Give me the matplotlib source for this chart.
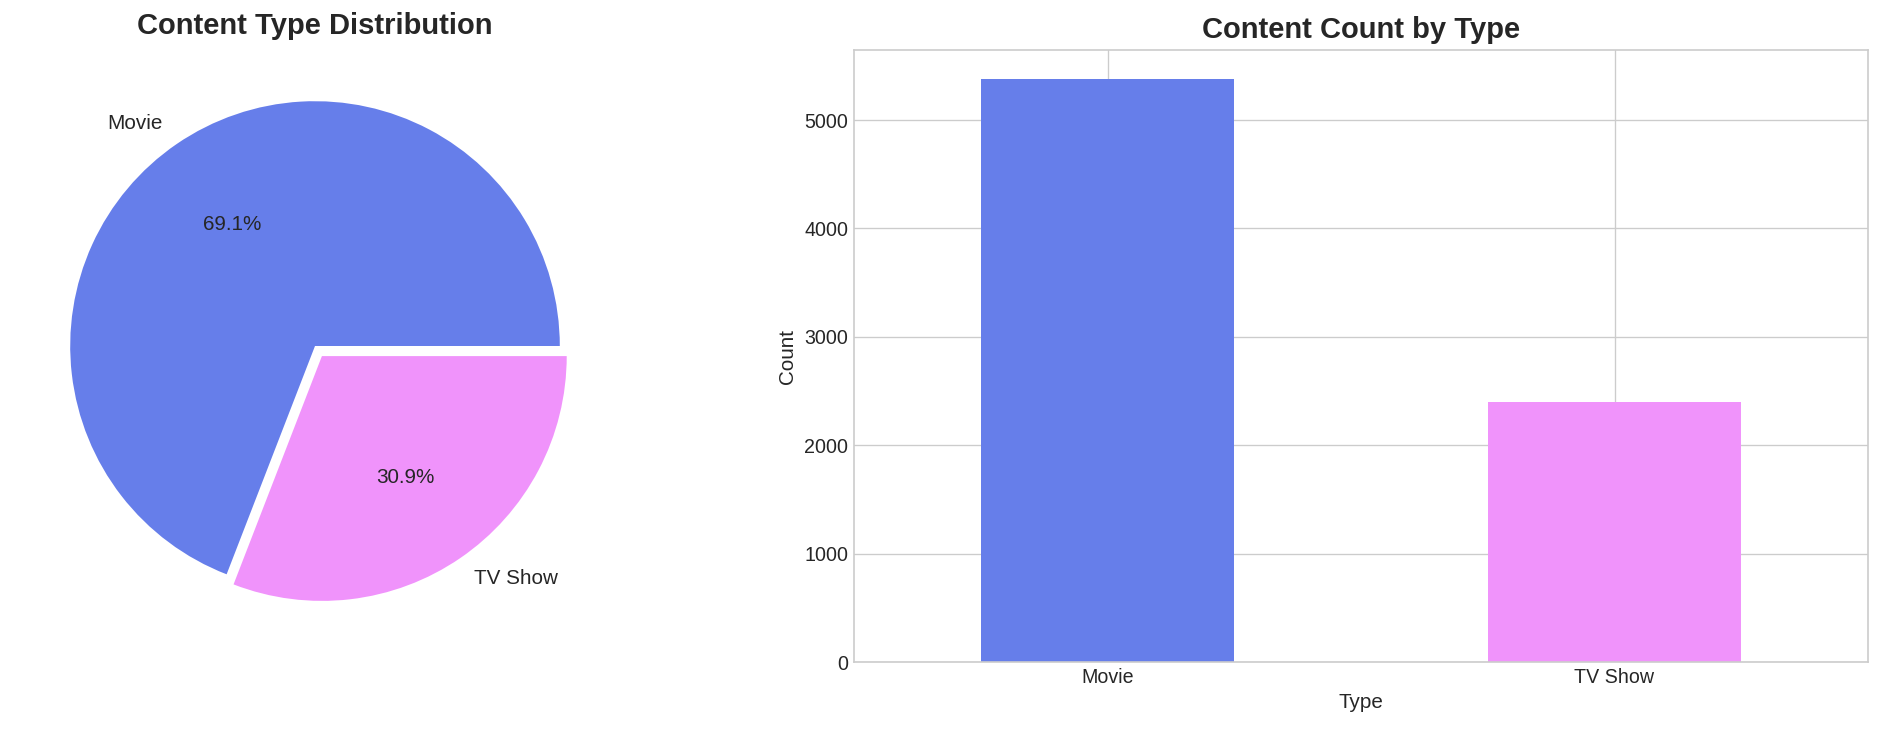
import matplotlib.pyplot as plt

plt.style.use('seaborn-v0_8-whitegrid')
plt.rcParams['font.family'] = ['Liberation Sans', 'DejaVu Sans']
plt.rcParams['xtick.labelsize'] = 11.8
plt.rcParams['ytick.labelsize'] = 11.8
plt.rcParams['axes.labelsize'] = 12.4

# data
types = ['Movie', 'TV Show']
counts = [5377, 2402]
colors = ['#667eea', '#f093fb']

W, H, DPI = 1884, 732, 120
fig = plt.figure(figsize=(W / DPI, H / DPI), dpi=DPI)

# pie (left)
side = 612
ax1 = fig.add_axes([(315 - side / 2) / W, (H - 652) / H, side / W, side / H])
ax1.pie(counts, labels=types, colors=colors, autopct='%1.1f%%',
        explode=(0, 0.05), textprops={'fontsize': 12.4})
ax1.set_title('Content Type Distribution', fontsize=17.5, fontweight='bold',
              y=1.01, pad=0)

# bar (right)
ax2 = fig.add_axes([854 / W, (H - 662) / H, (1868 - 854) / W, side / H])
ax2.bar(range(len(types)), counts, color=colors, width=0.5)
ax2.set_xticks(range(len(types)))
ax2.set_xticklabels(types)
ax2.set_xlim(-0.5, len(types) - 0.5)
ax2.set_ylim(0, max(counts) * 1.05)
ax2.set_xlabel('Type')
ax2.set_ylabel('Count')
ax2.set_title('Content Count by Type', fontsize=17.5, fontweight='bold', pad=7.5)

plt.savefig('out.png', dpi=DPI)
plt.close()
